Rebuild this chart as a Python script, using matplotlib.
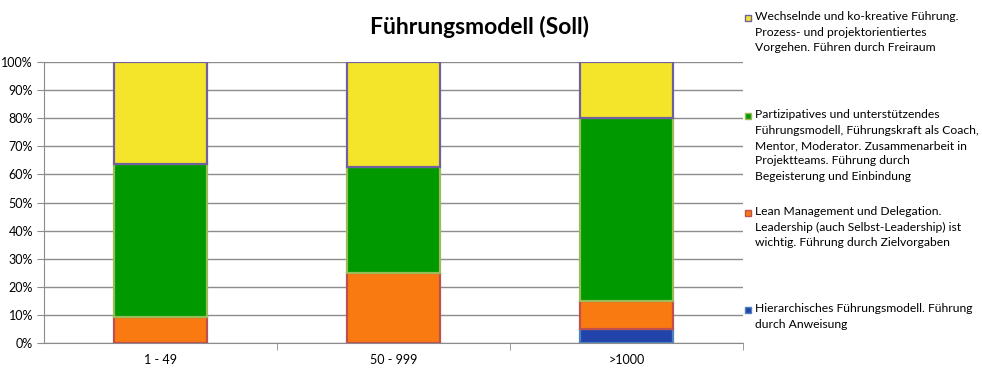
import matplotlib
matplotlib.use("Agg")
import matplotlib.pyplot as plt
import numpy as np
from matplotlib.patches import Rectangle

plt.rcParams['font.family'] = ['Lato', 'DejaVu Sans']

categories = ["1 - 49", "50 - 999", ">1000"]
hierarchisch = [0.0, 0.0, 5.0]
lean = [9.1, 25.0, 10.0]
partizipativ = [54.5, 37.5, 65.0]
wechselnd = [36.4, 37.5, 20.0]

series_labels = [
    "Hierarchisches Führungsmodell. Führung\ndurch Anweisung",
    "Lean Management und Delegation.\nLeadership (auch Selbst-Leadership) ist\nwichtig. Führung durch Zielvorgaben",
    "Partizipatives und unterstützendes\nFührungsmodell, Führungskraft als Coach,\nMentor, Moderator. Zusammenarbeit in\nProjektteams. Führung durch\nBegeisterung und Einbindung",
    "Wechselnde und ko-kreative Führung.\nProzess- und projektorientiertes\nVorgehen. Führen durch Freiraum",
]
series_values = [hierarchisch, lean, partizipativ, wechselnd]
fills = ["#2244AA", "#F97A10", "#009A00", "#F5E52A"]
edges = ["#4F81BD", "#C0504D", "#9BBB59", "#7060A0"]

fig = plt.figure(figsize=(9.82, 3.8), dpi=100)
ax = fig.add_axes([44/982, 37/380, (743-44)/982, (343-62)/380])

x = np.arange(len(categories))
bottom = np.zeros(len(categories))
for vals, fc, ec in zip(series_values, fills, edges):
    v = np.array(vals)
    ax.bar(x, v, 0.4, bottom=bottom, color=fc, edgecolor=ec, linewidth=1.6, zorder=3)
    bottom += v

ax.set_xlim(-0.5, 2.5)
ax.set_ylim(0, 100)
ax.set_yticks(np.arange(0, 101, 10))
ax.set_yticklabels([f"{v}%" for v in range(0, 101, 10)], fontsize=9)
ax.yaxis.grid(True, color="#8C8C8C", linewidth=1, zorder=0)
ax.set_xticks(x)
ax.set_xticklabels(categories, fontsize=9)
ax.tick_params(axis='x', length=0, pad=8)
ax.set_xticks([0.5, 1.5, 2.5], minor=True)
ax.tick_params(axis='x', which='minor', length=5, color="#8C8C8C")
ax.tick_params(axis='y', length=5, color="#8C8C8C", pad=3)
for s in ["top", "right"]:
    ax.spines[s].set_visible(False)
for s in ["left", "bottom"]:
    ax.spines[s].set_color("#8C8C8C")

fig.text(480/982, 1 - 27/380, "Führungsmodell (Soll)", ha="center", va="center",
         fontsize=16.5, fontweight="bold")

# legend (manual, top to bottom: reversed order)
legend_y = [11, 109, 206, 303]
for (lab, fc, ec), yy in zip(list(zip(series_labels, fills, edges))[::-1], legend_y):
    fig.patches.append(Rectangle((745/982, 1 - (yy + 10)/380), 6/982, 6/380,
                                 transform=fig.transFigure, facecolor=fc,
                                 edgecolor=ec, linewidth=1))
    fig.text(755/982, 1 - yy/380, lab, ha="left", va="top", fontsize=8.7,
             linespacing=1.5)

fig.savefig("out.png", dpi=100)
